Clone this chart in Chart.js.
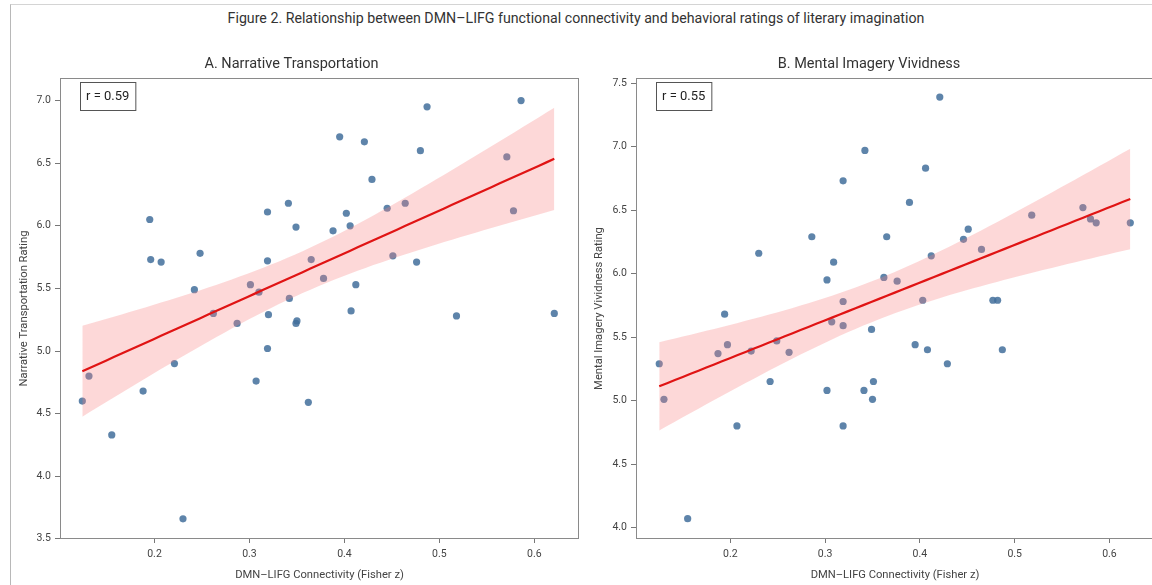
<!DOCTYPE html>
<html>
<head>
<meta charset="utf-8">
<script src="https://cdn.jsdelivr.net/npm/chart.js@4.4.1/dist/chart.umd.min.js"></script>
<style>
  html, body { margin: 0; padding: 0; background: #fff; overflow: hidden; }
  #page { position: relative; width: 1152px; height: 585px; overflow: hidden; font-family: Roboto, sans-serif; }
  #frame { position: absolute; left: 10px; top: 4px; width: 1200px; height: 700px; border-left: 1px solid #b8b8b8; border-top: 1px solid #d4d4d4; }
  #figTitle { position: absolute; left: 0; top: 10px; width: 1152px; text-align: center; font-size: 14.2px; color: #333; }
  .panel { position: absolute; top: 44px; height: 541px; }
  #panelA { left: 0; width: 583px; }
  #panelB { left: 580px; width: 578px; }
</style>
</head>
<body>
<div id="page">
  <div id="frame"></div>
  <div id="figTitle">Figure 2. Relationship between DMN–LIFG functional connectivity and behavioral ratings of literary imagination</div>
  <div class="panel" id="panelA"><canvas id="chartA"></canvas></div>
  <div class="panel" id="panelB"><canvas id="chartB"></canvas></div>
</div>
<script>
// Panel A: narrative transportation vs connectivity
const narrX = [0.195, 0.196, 0.207, 0.248, 0.242, 0.262, 0.287, 0.301, 0.310, 0.319, 0.319, 0.341,
  0.349, 0.365, 0.378, 0.342, 0.320, 0.349, 0.350, 0.319, 0.307, 0.362, 0.221, 0.131, 0.124, 0.188,
  0.155, 0.230, 0.487, 0.586, 0.395, 0.421, 0.480, 0.571, 0.429, 0.464, 0.445, 0.402, 0.406, 0.388,
  0.578, 0.451, 0.476, 0.412, 0.407, 0.518, 0.621];
const narrY = [6.05, 5.73, 5.71, 5.78, 5.49, 5.30, 5.22, 5.53, 5.47, 6.11, 5.72, 6.18,
  5.99, 5.73, 5.58, 5.42, 5.29, 5.22, 5.24, 5.02, 4.76, 4.59, 4.90, 4.80, 4.60, 4.68,
  4.33, 3.66, 6.95, 7.00, 6.71, 6.67, 6.60, 6.55, 6.37, 6.18, 6.14, 6.10, 6.00, 5.96,
  6.12, 5.76, 5.71, 5.53, 5.32, 5.28, 5.30];

// Panel B: mental imagery vividness vs connectivity
const imagX = [0.342, 0.319, 0.286, 0.365, 0.230, 0.309, 0.302, 0.362, 0.376, 0.319, 0.307, 0.319,
  0.349, 0.194, 0.197, 0.187, 0.222, 0.249, 0.262, 0.125, 0.130, 0.242, 0.302, 0.207, 0.319, 0.341,
  0.351, 0.350, 0.155, 0.421, 0.406, 0.389, 0.451, 0.446, 0.412, 0.465, 0.518, 0.572, 0.580, 0.586,
  0.622, 0.403, 0.477, 0.482, 0.395, 0.408, 0.429, 0.487];
const imagY = [6.97, 6.73, 6.29, 6.29, 6.16, 6.09, 5.95, 5.97, 5.94, 5.78, 5.62, 5.59,
  5.56, 5.68, 5.44, 5.37, 5.39, 5.47, 5.38, 5.29, 5.01, 5.15, 5.08, 4.80, 4.80, 5.08,
  5.15, 5.01, 4.07, 7.39, 6.83, 6.56, 6.35, 6.27, 6.14, 6.19, 6.46, 6.52, 6.43, 6.40,
  6.40, 5.79, 5.79, 5.79, 5.44, 5.40, 5.29, 5.40];

// tick values
const xTicks = [0.2, 0.3, 0.4, 0.5, 0.6];
const narrYTicks = [3.5, 4.0, 4.5, 5.0, 5.5, 6.0, 6.5, 7.0];
const imagYTicks = [4.0, 4.5, 5.0, 5.5, 6.0, 6.5, 7.0, 7.5];

const panelTitles = ['A. Narrative Transportation', 'B. Mental Imagery Vividness'];
const yTitles = ['Narrative Transportation Rating', 'Mental Imagery Vividness Rating'];
const xTitle = 'DMN–LIFG Connectivity (Fisher z)';
const rLabels = ['r = 0.59', 'r = 0.55'];

const FONT = 'Roboto, sans-serif';

// least squares fit with 95% confidence band
function fit(xs, ys) {
  const n = xs.length;
  const mx = xs.reduce((a, b) => a + b, 0) / n;
  const my = ys.reduce((a, b) => a + b, 0) / n;
  let sxx = 0, sxy = 0;
  for (let i = 0; i < n; i++) {
    sxx += (xs[i] - mx) ** 2;
    sxy += (xs[i] - mx) * (ys[i] - my);
  }
  const b = sxy / sxx, a = my - b * mx;
  let sse = 0;
  for (let i = 0; i < n; i++) sse += (ys[i] - a - b * xs[i]) ** 2;
  const s = Math.sqrt(sse / (n - 2));
  const t = 2.014;
  const x0 = Math.min(...xs), x1 = Math.max(...xs);
  const line = [], upper = [], lower = [];
  for (let i = 0; i <= 60; i++) {
    const x = x0 + (x1 - x0) * i / 60;
    const yh = a + b * x;
    const h = t * s * Math.sqrt(1 / n + (x - mx) ** 2 / sxx);
    line.push({x, y: yh});
    upper.push({x, y: yh + h});
    lower.push({x, y: yh - h});
  }
  return {line, upper, lower};
}

const frameAndLabel = {
  id: 'frameAndLabel',
  afterDraw(chart, args, opts) {
    const {ctx, chartArea: a} = chart;
    ctx.save();
    ctx.strokeStyle = '#8a8a8a';
    ctx.lineWidth = 1;
    ctx.strokeRect(a.left + 0.5, a.top + 0.5, a.width - 1, a.height - 1);
    ctx.font = '13px ' + FONT;
    const w = ctx.measureText(opts.text).width;
    const x = a.left + 20, y = a.top + 4;
    ctx.fillStyle = '#fff';
    ctx.fillRect(x, y, w + 12, 28);
    ctx.strokeStyle = '#555';
    ctx.strokeRect(x + 0.5, y + 0.5, w + 12, 28);
    ctx.fillStyle = '#222';
    ctx.textBaseline = 'middle';
    ctx.fillText(opts.text, x + 6, y + 15);
    ctx.restore();
  }
};

function makeChart(id, xs, ys, yTicks, idx, yMin, yMax, yWidth, yTitlePad) {
  const f = fit(xs, ys);
  const pts = xs.map((x, i) => ({x, y: ys[i]}));
  return new Chart(document.getElementById(id), {
    type: 'scatter',
    data: {
      datasets: [
        {
          data: pts,
          backgroundColor: 'rgba(66,110,155,0.85)',
          borderWidth: 0,
          pointRadius: 3.6,
          order: 3
        },
        {
          data: f.upper,
          showLine: true,
          pointRadius: 0,
          borderWidth: 0,
          borderColor: 'rgba(0,0,0,0)',
          backgroundColor: 'rgba(250,125,125,0.3)',
          fill: '+1',
          order: 2
        },
        {
          data: f.lower,
          showLine: true,
          pointRadius: 0,
          borderWidth: 0,
          borderColor: 'rgba(0,0,0,0)',
          fill: false,
          order: 2
        },
        {
          data: f.line,
          showLine: true,
          pointRadius: 0,
          borderWidth: 2.2,
          borderColor: '#e01414',
          fill: false,
          order: 1
        }
      ]
    },
    options: {
      responsive: true,
      maintainAspectRatio: false,
      animation: false,
      layout: { padding: 0 },
      plugins: {
        legend: { display: false },
        tooltip: { enabled: false },
        title: {
          display: true,
          text: panelTitles[idx],
          color: '#333',
          font: { family: FONT, size: 14.5, weight: 'normal' },
          padding: { top: 12, bottom: 4.6 }
        },
        frameAndLabel: { text: rLabels[idx] }
      },
      scales: {
        x: {
          type: 'linear',
          bounds: 'data',
          min: 0.1005,
          max: 0.647,
          border: { display: false },
          grid: { drawOnChartArea: false, drawTicks: true, tickLength: 4, color: '#777' },
          ticks: {
            padding: 5,
            color: '#444',
            font: { family: FONT, size: 10.5 },
            callback: v => v.toFixed(1)
          },
          afterBuildTicks: s => { s.ticks = xTicks.map(v => ({value: v})); },
          title: {
            display: true,
            text: xTitle,
            color: '#444',
            font: { family: FONT, size: 11.2 },
            padding: { top: 0, bottom: 3 }
          },
          afterFit: s => { s.height = 46; }
        },
        y: {
          type: 'linear',
          bounds: 'data',
          min: yMin,
          max: yMax,
          border: { display: false },
          grid: { drawOnChartArea: false, drawTicks: true, tickLength: 5, color: '#777' },
          ticks: {
            padding: 4,
            color: '#444',
            font: { family: FONT, size: 10.5 },
            callback: v => v.toFixed(1)
          },
          afterBuildTicks: s => { s.ticks = yTicks.map(v => ({value: v})); },
          title: {
            display: true,
            text: yTitles[idx],
            color: '#444',
            font: { family: FONT, size: 11.2 },
            padding: { top: yTitlePad, bottom: 0 }
          },
          afterFit: s => { s.width = yWidth; }
        }
      }
    },
    plugins: [frameAndLabel]
  });
}

makeChart('chartA', narrX, narrY, narrYTicks, 0, 3.499, 7.18, 60, 17);
makeChart('chartB', imagX, imagY, imagYTicks, 1, 3.91, 7.54, 56, 12);
</script>
</body>
</html>
